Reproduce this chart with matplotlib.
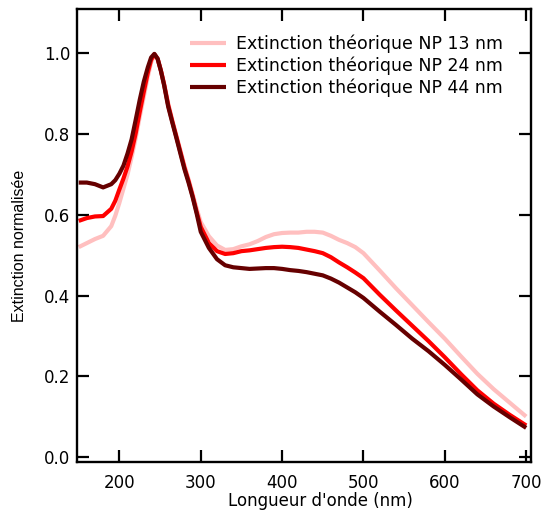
import matplotlib
matplotlib.use("Agg")
import matplotlib.pyplot as plt

wavelength = [150, 160, 170, 180, 190, 195, 200, 205, 210, 215, 220, 225, 230, 235, 239, 243, 247, 251, 255,
              260, 265, 270, 276, 280, 285, 290, 295, 300,
              310, 320, 330, 340, 350, 360, 370, 380, 390, 400, 410, 420, 430, 440, 450,
              460, 470, 480, 490, 500, 520, 540, 560, 580, 600, 620, 640, 660, 680, 700]

np13 = [0.520, 0.530, 0.540, 0.548, 0.572, 0.598, 0.630, 0.665, 0.700, 0.743, 0.790, 0.843, 0.893, 0.943, 0.978, 0.997, 0.986, 0.958, 0.925,
        0.876, 0.835, 0.797, 0.752, 0.722, 0.688, 0.652, 0.615, 0.582,
        0.547, 0.524, 0.513, 0.515, 0.522, 0.527, 0.535, 0.545, 0.552, 0.555, 0.556, 0.556, 0.558, 0.558, 0.556,
        0.548, 0.538, 0.530, 0.520, 0.505, 0.462, 0.418, 0.376, 0.334, 0.293, 0.249, 0.206, 0.168, 0.134, 0.100]

np24 = [0.585, 0.592, 0.596, 0.597, 0.615, 0.635, 0.663, 0.690, 0.720, 0.757, 0.802, 0.855, 0.905, 0.953, 0.984, 0.998, 0.987, 0.958, 0.923,
        0.872, 0.832, 0.794, 0.748, 0.717, 0.684, 0.647, 0.607, 0.570,
        0.530, 0.510, 0.503, 0.505, 0.510, 0.512, 0.515, 0.518, 0.520, 0.521, 0.520, 0.518, 0.514, 0.510, 0.505,
        0.495, 0.482, 0.470, 0.457, 0.443, 0.402, 0.363, 0.325, 0.287, 0.247, 0.205, 0.165, 0.132, 0.104, 0.078]

np44 = [0.680, 0.680, 0.676, 0.668, 0.676, 0.686, 0.702, 0.722, 0.752, 0.787, 0.835, 0.885, 0.930, 0.966, 0.990, 0.999, 0.987, 0.957, 0.921,
        0.868, 0.829, 0.791, 0.744, 0.713, 0.680, 0.644, 0.603, 0.558,
        0.518, 0.490, 0.475, 0.470, 0.468, 0.466, 0.467, 0.468, 0.468, 0.466, 0.463, 0.461, 0.458, 0.454, 0.450,
        0.442, 0.432, 0.420, 0.408, 0.394, 0.360, 0.327, 0.293, 0.262, 0.228, 0.192, 0.155, 0.125, 0.098, 0.072]

labels = ["Extinction théorique NP 13 nm", "Extinction théorique NP 24 nm", "Extinction théorique NP 44 nm"]
colors = ["#ffbfbf", "#ff0000", "#660000"]

xticks = [200, 300, 400, 500, 600, 700]
yticks = [0.0, 0.2, 0.4, 0.6, 0.8, 1.0]

fig = plt.figure(figsize=(5.43, 5.13), dpi=100)
ax = fig.add_axes([0.1427, 0.0999, 0.978 - 0.1427, 0.9815 - 0.0999])

for y, c, lab in zip([np13, np24, np44], colors, labels):
    ax.plot(wavelength, y, color=c, lw=3, label=lab, solid_capstyle='butt',
            solid_joinstyle='round')

ax.set_xlim(148.5, 706)
ax.set_ylim(-0.012, 1.109)
ax.set_xticks(xticks)
ax.set_yticks(yticks)
ax.set_yticklabels([f"{v:.1f}" for v in yticks])
ax.tick_params(direction='in', length=8.5, width=1.6, top=True, right=True,
               labelsize=12)
ax.tick_params(axis='x', pad=8.5)
ax.tick_params(axis='y', pad=5)
for s in ax.spines.values():
    s.set_linewidth(1.7)

ax.set_xlabel("Longueur d'onde (nm)", fontsize=12)
ax.set_ylabel("Extinction normalisée", fontsize=11.5, family=['Liberation Sans', 'DejaVu Sans'])
ax.xaxis.set_label_coords(0.536, -0.087)
ax.xaxis.label.set_va('center')
ax.yaxis.set_label_coords(-0.127, 0.477)
ax.yaxis.label.set_va('center')

leg = ax.legend(loc='upper left', bbox_to_anchor=(190 / 543, 1 - 34.6 / 513),
                bbox_transform=fig.transFigure, frameon=False, fontsize=12.5,
                handlelength=2.1, handletextpad=0.57, labelspacing=0.21,
                borderpad=0, borderaxespad=0)

fig.savefig("out.png", dpi=100)
